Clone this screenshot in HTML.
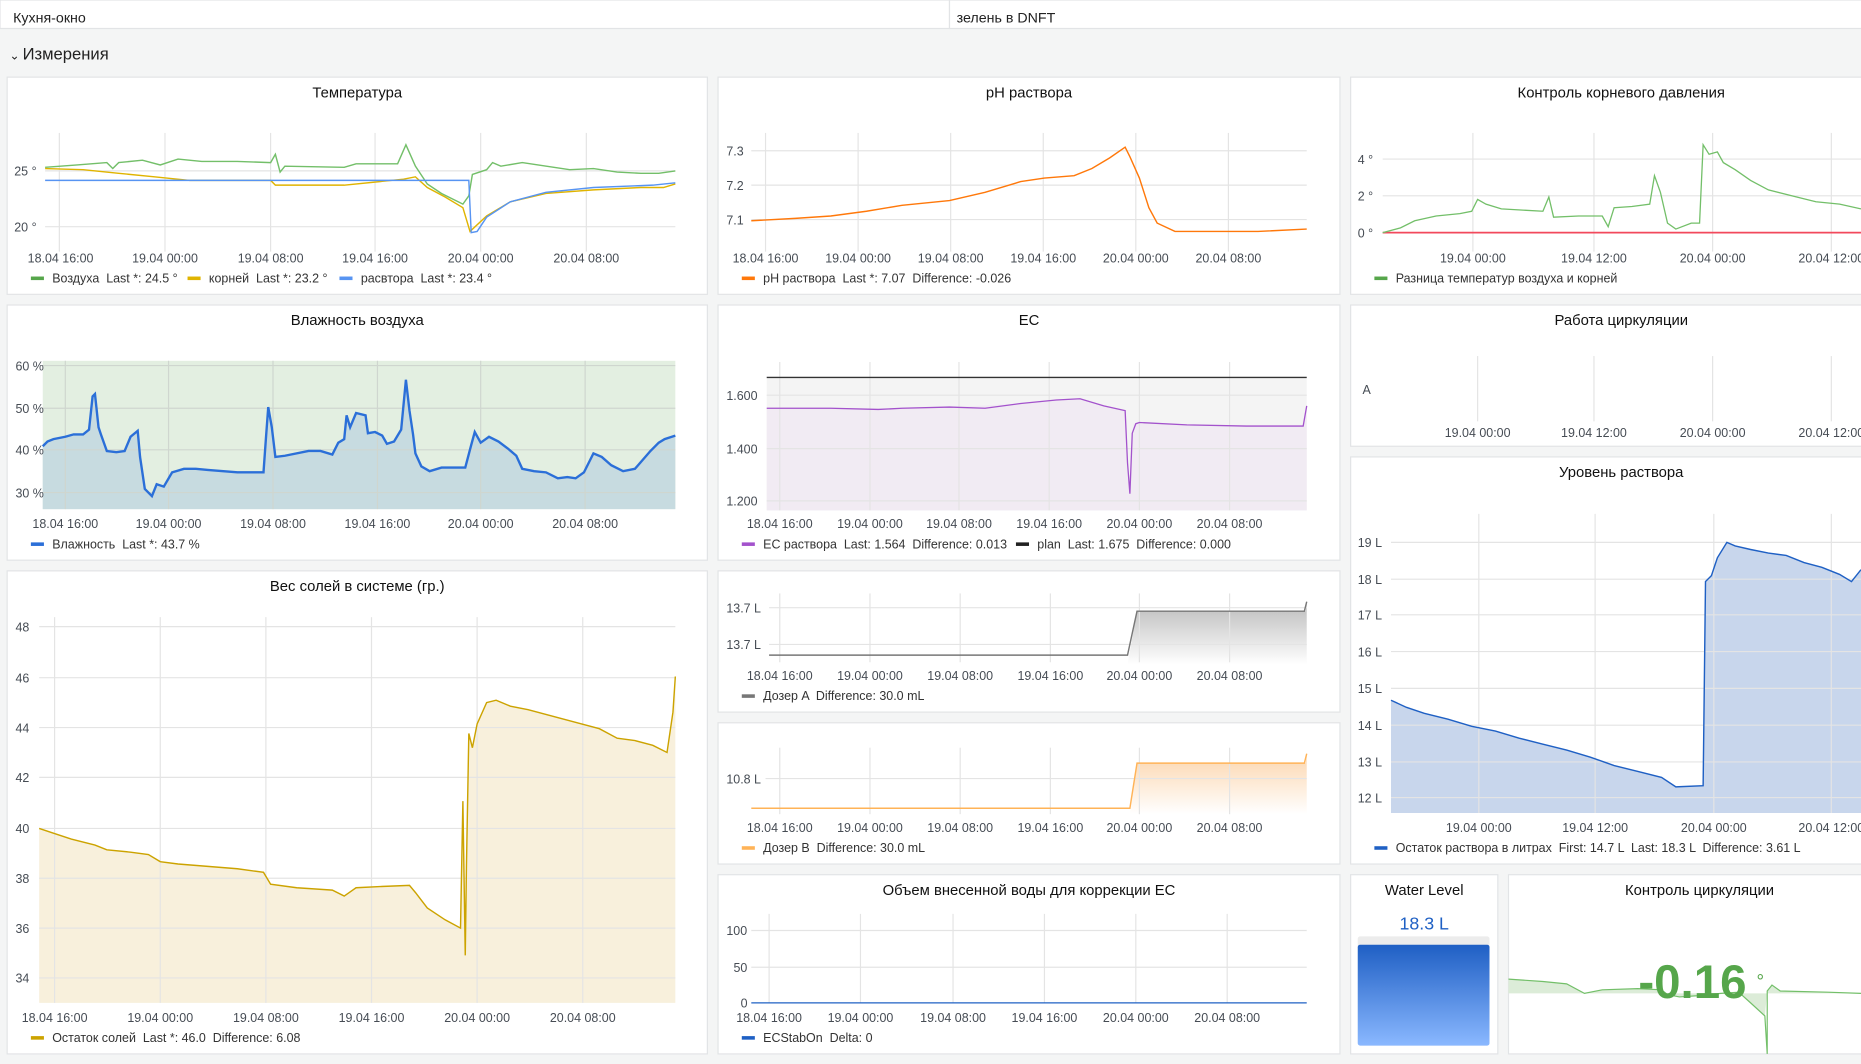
<!DOCTYPE html>
<html><head><meta charset="utf-8"><style>
html,body{margin:0;padding:0;background:#f4f5f5;width:1861px;height:1064px;overflow:hidden}
svg{display:block}
text{font-family:"Liberation Sans",sans-serif;fill:#464c54;font-size:10.5px;white-space:pre}
.t{font-size:12.5px;fill:#111;font-weight:normal;text-anchor:middle}
.lg{font-size:10.5px;fill:#333}
.g{stroke:#e4e4e4;stroke-width:1}
.p{fill:#fff;stroke:#e2e4e6}
</style></head><body>
<svg width="1861" height="1064" viewBox="0 0 1568 896.5">
<defs>
<linearGradient id="ga" x1="0" y1="0" x2="0" y2="1"><stop offset="0" stop-color="#bdbdbd"/><stop offset="1" stop-color="#fff"/></linearGradient>
<linearGradient id="gb" x1="0" y1="0" x2="0" y2="1"><stop offset="0" stop-color="#fcd7b0"/><stop offset="1" stop-color="#fff"/></linearGradient>
<linearGradient id="wl" x1="0" y1="0" x2="0" y2="1"><stop offset="0" stop-color="#1f5fc4"/><stop offset="1" stop-color="#8ab8ff"/></linearGradient>
</defs>
<rect x="0" y="0" width="800" height="24" class="p"/><rect x="800" y="0" width="770" height="24" class="p"/>
<text x="11" y="19" style="font-size:12px;fill:#222">Кухня-окно</text>
<text x="806" y="19" style="font-size:12px;fill:#222">зелень в DNFT</text>
<text x="8" y="50" style="font-size:10px;fill:#222">⌄</text>
<text x="19" y="50" style="font-size:14px;fill:#222">Измерения</text>

<!-- Temperature -->
<rect x="6" y="65" width="590" height="183" class="p"/>
<text x="301" y="82" class="t">Температура</text>
<g class="g"><line x1="50" y1="112" x2="50" y2="212"/><line x1="139" y1="112" x2="139" y2="212"/><line x1="228" y1="112" x2="228" y2="212"/><line x1="316" y1="112" x2="316" y2="212"/><line x1="405" y1="112" x2="405" y2="212"/><line x1="494" y1="112" x2="494" y2="212"/><line x1="38" y1="144" x2="569" y2="144"/><line x1="38" y1="191" x2="569" y2="191"/></g>
<text x="12" y="148">25 °</text><text x="12" y="195">20 °</text>
<polyline fill="none" stroke="#73bf69" stroke-width="1.2" points="38,141 65,139 90,137 95,142 100,137 120,135 135,139 150,134 170,136 200,136 228,137 232,130 236,145 240,140 290,141 300,138 335,138 342,122 350,140 360,155 372,163 390,172 395,165 398,147 410,143 415,137 422,140 440,137 480,143 500,142 520,145 540,146 555,146 569,144"/>
<polyline fill="none" stroke="#e0b400" stroke-width="1.2" points="38,142 70,143 100,146 130,149 160,152 228,152 232,156 290,156 340,151 350,149 360,158 375,166 390,175 396,195 410,182 430,170 460,163 500,160 540,158 559,158 569,155"/>
<polyline fill="none" stroke="#5794f2" stroke-width="1.2" points="38,152 395,152 397,196 402,195 410,183 430,170 460,162 500,158 550,156 569,154"/>
<text x="51" y="221" text-anchor="middle">18.04 16:00</text><text x="139" y="221" text-anchor="middle">19.04 00:00</text><text x="228" y="221" text-anchor="middle">19.04 08:00</text><text x="316" y="221" text-anchor="middle">19.04 16:00</text><text x="405" y="221" text-anchor="middle">20.04 00:00</text><text x="494" y="221" text-anchor="middle">20.04 08:00</text>
<rect x="26" y="233" width="11" height="3" fill="#56a64b"/><text x="44" y="238" class="lg">Воздуха  Last *: 24.5 °</text>
<rect x="158" y="233" width="11" height="3" fill="#e0b400"/><text x="176" y="238" class="lg">корней  Last *: 23.2 °</text>
<rect x="286" y="233" width="11" height="3" fill="#5794f2"/><text x="304" y="238" class="lg">расвтора  Last *: 23.4 °</text>

<!-- pH -->
<rect x="605" y="65" width="524" height="183" class="p"/>
<text x="867" y="82" class="t">pH раствора</text>
<g class="g"><line x1="645" y1="112" x2="645" y2="212"/><line x1="723" y1="112" x2="723" y2="212"/><line x1="801" y1="112" x2="801" y2="212"/><line x1="879" y1="112" x2="879" y2="212"/><line x1="957" y1="112" x2="957" y2="212"/><line x1="1035" y1="112" x2="1035" y2="212"/><line x1="633" y1="127" x2="1101" y2="127"/><line x1="633" y1="156" x2="1101" y2="156"/><line x1="633" y1="185" x2="1101" y2="185"/></g>
<text x="612" y="131">7.3</text><text x="612" y="160">7.2</text><text x="612" y="189">7.1</text>
<polyline fill="none" stroke="#ff780a" stroke-width="1.2" points="633,186 670,184 700,182 730,178 760,173 800,169 830,162 860,153 880,150 905,148 920,142 935,133 948,124 952,132 960,150 968,175 975,188 990,195 1030,195 1060,195 1101,193"/>
<text x="645" y="221" text-anchor="middle">18.04 16:00</text><text x="723" y="221" text-anchor="middle">19.04 00:00</text><text x="801" y="221" text-anchor="middle">19.04 08:00</text><text x="879" y="221" text-anchor="middle">19.04 16:00</text><text x="957" y="221" text-anchor="middle">20.04 00:00</text><text x="1035" y="221" text-anchor="middle">20.04 08:00</text>
<rect x="625" y="233" width="11" height="3" fill="#ff780a"/><text x="643" y="238" class="lg">pH раствора  Last *: 7.07  Difference: -0.026</text>

<!-- Root pressure -->
<rect x="1138" y="65" width="440" height="183" class="p"/>
<text x="1366" y="82" class="t">Контроль корневого давления</text>
<g class="g"><line x1="1241" y1="112" x2="1241" y2="212"/><line x1="1343" y1="112" x2="1343" y2="212"/><line x1="1443" y1="112" x2="1443" y2="212"/><line x1="1543" y1="112" x2="1543" y2="212"/><line x1="1165" y1="134" x2="1568" y2="134"/><line x1="1165" y1="165" x2="1568" y2="165"/></g>
<text x="1144" y="138">4 °</text><text x="1144" y="169">2 °</text><text x="1144" y="200">0 °</text>
<polyline fill="none" stroke="#f2495c" stroke-width="1.5" points="1165,196 1568,196"/>
<polyline fill="none" stroke="#73bf69" stroke-width="1.1" points="1165,196 1180,192 1192,186 1210,182 1230,180 1240,178 1245,168 1252,172 1265,176 1300,178 1305,166 1309,183 1330,182 1350,182 1355,191 1360,175 1375,174 1390,172 1394,148 1399,162 1405,188 1412,193 1425,188 1432,188 1435,122 1440,130 1447,128 1452,137 1462,143 1475,152 1490,160 1510,165 1530,170 1550,172 1568,176"/>
<text x="1241" y="221" text-anchor="middle">19.04 00:00</text><text x="1343" y="221" text-anchor="middle">19.04 12:00</text><text x="1443" y="221" text-anchor="middle">20.04 00:00</text><text x="1543" y="221" text-anchor="middle">20.04 12:00</text>
<rect x="1158" y="233" width="11" height="3" fill="#56a64b"/><text x="1176" y="238" class="lg">Разница температур воздуха и корней</text>

<!-- Humidity -->
<rect x="6" y="257" width="590" height="215" class="p"/>
<text x="301" y="274" class="t">Влажность воздуха</text>
<rect x="36" y="304" width="533" height="125" fill="#e3efe1"/>
<polygon fill="#c7dbe0" points="36,429 36,376 40,372 45,370 55,368 62,366 70,366 75,362 78,334 80,332 83,360 85,366 90,380 98,381 105,380 110,368 116,363 118,385 122,412 128,418 132,408 138,410 145,398 155,395 165,395 175,396 200,398 222,398 224,370 226,343 229,360 232,385 240,384 260,380 270,380 280,383 285,373 290,370 292,350 295,360 300,348 308,350 310,365 316,364 322,367 326,374 332,372 338,362 342,320 345,346 348,366 350,382 355,393 362,397 372,394 385,394 392,394 397,375 400,364 405,373 412,368 420,372 428,378 435,384 440,395 450,397 460,398 470,403 478,402 485,403 492,398 500,382 507,385 515,392 525,397 535,395 548,380 555,373 560,370 569,367 569,429"/>
<g class="g" style="stroke:#cfd6cf"><line x1="55" y1="304" x2="55" y2="429"/><line x1="142" y1="304" x2="142" y2="429"/><line x1="230" y1="304" x2="230" y2="429"/><line x1="318" y1="304" x2="318" y2="429"/><line x1="405" y1="304" x2="405" y2="429"/><line x1="493" y1="304" x2="493" y2="429"/><line x1="36" y1="308" x2="569" y2="308"/><line x1="36" y1="344" x2="569" y2="344"/><line x1="36" y1="379" x2="569" y2="379"/><line x1="36" y1="415" x2="569" y2="415"/></g>
<polyline fill="none" stroke="#2b6fd8" stroke-width="2" points="36,376 40,372 45,370 55,368 62,366 70,366 75,362 78,334 80,332 83,360 85,366 90,380 98,381 105,380 110,368 116,363 118,385 122,412 128,418 132,408 138,410 145,398 155,395 165,395 175,396 200,398 222,398 224,370 226,343 229,360 232,385 240,384 260,380 270,380 280,383 285,373 290,370 292,350 295,360 300,348 308,350 310,365 316,364 322,367 326,374 332,372 338,362 342,320 345,346 348,366 350,382 355,393 362,397 372,394 385,394 392,394 397,375 400,364 405,373 412,368 420,372 428,378 435,384 440,395 450,397 460,398 470,403 478,402 485,403 492,398 500,382 507,385 515,392 525,397 535,395 548,380 555,373 560,370 569,367"/>
<text x="13" y="312">60 %</text><text x="13" y="348">50 %</text><text x="13" y="383">40 %</text><text x="13" y="419">30 %</text>
<text x="55" y="445" text-anchor="middle">18.04 16:00</text><text x="142" y="445" text-anchor="middle">19.04 00:00</text><text x="230" y="445" text-anchor="middle">19.04 08:00</text><text x="318" y="445" text-anchor="middle">19.04 16:00</text><text x="405" y="445" text-anchor="middle">20.04 00:00</text><text x="493" y="445" text-anchor="middle">20.04 08:00</text>
<rect x="26" y="457" width="11" height="3" fill="#2b6fd8"/><text x="44" y="462" class="lg">Влажность  Last *: 43.7 %</text>

<!-- EC -->
<rect x="605" y="257" width="524" height="215" class="p"/>
<text x="867" y="274" class="t">EC</text>
<rect x="646" y="318" width="455" height="112" fill="#f4f4f4"/>
<polygon fill="#f1ebf3" points="646,430 646,344 700,344 740,345 800,343 860,340 910,336 930,342 948,346 950,400 952,416 955,357 960,357 1000,358 1050,359 1098,359 1101,342 1101,430"/>
<g class="g"><line x1="657" y1="305" x2="657" y2="430"/><line x1="733" y1="305" x2="733" y2="430"/><line x1="808" y1="305" x2="808" y2="430"/><line x1="884" y1="305" x2="884" y2="430"/><line x1="960" y1="305" x2="960" y2="430"/><line x1="1036" y1="305" x2="1036" y2="430"/><line x1="646" y1="333" x2="1101" y2="333"/><line x1="646" y1="378" x2="1101" y2="378"/><line x1="646" y1="422" x2="1101" y2="422"/></g>
<line x1="646" y1="318" x2="1101" y2="318" stroke="#333" stroke-width="1.2"/>
<polyline fill="none" stroke="#a352cc" stroke-width="1.1" points="646,344 700,344 740,345 760,344 800,343 830,344 860,340 890,337 910,336 930,342 948,346 950,390 952,416 954,365 957,357 960,356 1000,358 1050,359 1098,359 1101,342"/>
<text x="612" y="337">1.600</text><text x="612" y="382">1.400</text><text x="612" y="426">1.200</text>
<text x="657" y="445" text-anchor="middle">18.04 16:00</text><text x="733" y="445" text-anchor="middle">19.04 00:00</text><text x="808" y="445" text-anchor="middle">19.04 08:00</text><text x="884" y="445" text-anchor="middle">19.04 16:00</text><text x="960" y="445" text-anchor="middle">20.04 00:00</text><text x="1036" y="445" text-anchor="middle">20.04 08:00</text>
<rect x="625" y="457" width="11" height="3" fill="#a352cc"/><text x="643" y="462" class="lg">EC раствора  Last: 1.564  Difference: 0.013</text>
<rect x="856" y="457" width="11" height="3" fill="#222"/><text x="874" y="462" class="lg">plan  Last: 1.675  Difference: 0.000</text>

<!-- Circulation work -->
<rect x="1138" y="257" width="440" height="119" class="p"/>
<text x="1366" y="274" class="t">Работа циркуляции</text>
<text x="1148" y="332">A</text>
<g class="g"><line x1="1245" y1="300" x2="1245" y2="355"/><line x1="1343" y1="300" x2="1343" y2="355"/><line x1="1443" y1="300" x2="1443" y2="355"/><line x1="1543" y1="300" x2="1543" y2="355"/></g>
<text x="1245" y="368" text-anchor="middle">19.04 00:00</text><text x="1343" y="368" text-anchor="middle">19.04 12:00</text><text x="1443" y="368" text-anchor="middle">20.04 00:00</text><text x="1543" y="368" text-anchor="middle">20.04 12:00</text>

<!-- Level -->
<rect x="1138" y="385" width="440" height="343" class="p"/>
<text x="1366" y="402" class="t">Уровень раствора</text>
<polygon fill="#c8d6ec" points="1172,685 1172,590 1185,596 1200,601 1220,606 1240,612 1260,616 1280,622 1300,627 1320,632 1340,638 1360,645 1380,650 1400,655 1412,663 1435,662 1437,490 1442,485 1447,470 1455,457 1462,460 1475,463 1490,466 1505,468 1520,474 1535,478 1550,484 1560,490 1568,480 1568,685"/>
<g class="g"><line x1="1246" y1="433" x2="1246" y2="685"/><line x1="1344" y1="433" x2="1344" y2="685"/><line x1="1444" y1="433" x2="1444" y2="685"/><line x1="1543" y1="433" x2="1543" y2="685"/><line x1="1172" y1="457" x2="1568" y2="457"/><line x1="1172" y1="488" x2="1568" y2="488"/><line x1="1172" y1="518" x2="1568" y2="518"/><line x1="1172" y1="549" x2="1568" y2="549"/><line x1="1172" y1="580" x2="1568" y2="580"/><line x1="1172" y1="611" x2="1568" y2="611"/><line x1="1172" y1="642" x2="1568" y2="642"/><line x1="1172" y1="672" x2="1568" y2="672"/></g>
<polyline fill="none" stroke="#1f60c4" stroke-width="1.2" points="1172,590 1185,596 1200,601 1220,606 1240,612 1260,616 1280,622 1300,627 1320,632 1340,638 1360,645 1380,650 1400,655 1412,663 1435,662 1437,490 1442,485 1447,470 1455,457 1462,460 1475,463 1490,466 1505,468 1520,474 1535,478 1550,484 1560,490 1568,480"/>
<text x="1144" y="461">19 L</text><text x="1144" y="492">18 L</text><text x="1144" y="522">17 L</text><text x="1144" y="553">16 L</text><text x="1144" y="584">15 L</text><text x="1144" y="615">14 L</text><text x="1144" y="646">13 L</text><text x="1144" y="676">12 L</text>
<text x="1246" y="701" text-anchor="middle">19.04 00:00</text><text x="1344" y="701" text-anchor="middle">19.04 12:00</text><text x="1444" y="701" text-anchor="middle">20.04 00:00</text><text x="1543" y="701" text-anchor="middle">20.04 12:00</text>
<rect x="1158" y="713" width="11" height="3" fill="#1f60c4"/><text x="1176" y="718" class="lg">Остаток раствора в литрах  First: 14.7 L  Last: 18.3 L  Difference: 3.61 L</text>

<!-- Salt -->
<rect x="6" y="481" width="590" height="407" class="p"/>
<text x="301" y="498" class="t">Вес солей в системе (гр.)</text>
<polygon fill="#f8f0dc" points="33,845 33,698 45,702 60,707 80,712 90,716 110,718 125,720 135,726 150,728 175,730 200,732 222,735 228,745 250,748 280,750 290,755 300,748 320,747 345,746 350,752 360,765 375,775 388,782 390,675 392,805 393,730 395,618 398,630 402,610 410,592 418,590 430,595 445,598 460,602 475,606 490,610 505,614 520,622 535,624 550,628 562,634 567,600 569,570 569,845"/>
<g class="g"><line x1="46" y1="520" x2="46" y2="845"/><line x1="135" y1="520" x2="135" y2="845"/><line x1="224" y1="520" x2="224" y2="845"/><line x1="313" y1="520" x2="313" y2="845"/><line x1="402" y1="520" x2="402" y2="845"/><line x1="491" y1="520" x2="491" y2="845"/><line x1="33" y1="528" x2="569" y2="528"/><line x1="33" y1="571" x2="569" y2="571"/><line x1="33" y1="613" x2="569" y2="613"/><line x1="33" y1="655" x2="569" y2="655"/><line x1="33" y1="698" x2="569" y2="698"/><line x1="33" y1="740" x2="569" y2="740"/><line x1="33" y1="782" x2="569" y2="782"/><line x1="33" y1="824" x2="569" y2="824"/></g>
<polyline fill="none" stroke="#cca300" stroke-width="1.2" points="33,698 45,702 60,707 80,712 90,716 110,718 125,720 135,726 150,728 175,730 200,732 222,735 228,745 250,748 280,750 290,755 300,748 320,747 345,746 350,752 360,765 375,775 388,782 390,675 392,805 393,730 395,618 398,630 402,610 410,592 418,590 430,595 445,598 460,602 475,606 490,610 505,614 520,622 535,624 550,628 562,634 567,600 569,570"/>
<text x="13" y="532">48</text><text x="13" y="575">46</text><text x="13" y="617">44</text><text x="13" y="659">42</text><text x="13" y="702">40</text><text x="13" y="744">38</text><text x="13" y="786">36</text><text x="13" y="828">34</text>
<text x="46" y="861" text-anchor="middle">18.04 16:00</text><text x="135" y="861" text-anchor="middle">19.04 00:00</text><text x="224" y="861" text-anchor="middle">19.04 08:00</text><text x="313" y="861" text-anchor="middle">19.04 16:00</text><text x="402" y="861" text-anchor="middle">20.04 00:00</text><text x="491" y="861" text-anchor="middle">20.04 08:00</text>
<rect x="26" y="873" width="11" height="3" fill="#cca300"/><text x="44" y="878" class="lg">Остаток солей  Last *: 46.0  Difference: 6.08</text>

<!-- Doser A -->
<rect x="605" y="481" width="524" height="119" class="p"/>
<polygon fill="url(#ga)" points="950,560 958,515 1100,515 1101,508 1101,560"/>
<g class="g"><line x1="657" y1="500" x2="657" y2="558"/><line x1="733" y1="500" x2="733" y2="558"/><line x1="809" y1="500" x2="809" y2="558"/><line x1="885" y1="500" x2="885" y2="558"/><line x1="960" y1="500" x2="960" y2="558"/><line x1="1036" y1="500" x2="1036" y2="558"/><line x1="648" y1="512" x2="1101" y2="512"/><line x1="648" y1="543" x2="1101" y2="543"/></g>
<polyline fill="none" stroke="#777" stroke-width="1.2" points="648,552 950,552 958,515 1099,515 1101,507"/>
<text x="612" y="516">13.7 L</text><text x="612" y="547">13.7 L</text>
<text x="657" y="573" text-anchor="middle">18.04 16:00</text><text x="733" y="573" text-anchor="middle">19.04 00:00</text><text x="809" y="573" text-anchor="middle">19.04 08:00</text><text x="885" y="573" text-anchor="middle">19.04 16:00</text><text x="960" y="573" text-anchor="middle">20.04 00:00</text><text x="1036" y="573" text-anchor="middle">20.04 08:00</text>
<rect x="625" y="585" width="11" height="3" fill="#777"/><text x="643" y="590" class="lg">Дозер A  Difference: 30.0 mL</text>

<!-- Doser B -->
<rect x="605" y="609" width="524" height="119" class="p"/>
<polygon fill="url(#gb)" points="952,686 958,643 1100,643 1101,636 1101,686"/>
<g class="g"><line x1="657" y1="630" x2="657" y2="686"/><line x1="733" y1="630" x2="733" y2="686"/><line x1="809" y1="630" x2="809" y2="686"/><line x1="885" y1="630" x2="885" y2="686"/><line x1="960" y1="630" x2="960" y2="686"/><line x1="1036" y1="630" x2="1036" y2="686"/><line x1="645" y1="656" x2="1101" y2="656"/></g>
<polyline fill="none" stroke="#ffb357" stroke-width="1.2" points="633,681 952,681 958,643 1099,643 1101,635"/>
<text x="612" y="660">10.8 L</text>
<text x="657" y="701" text-anchor="middle">18.04 16:00</text><text x="733" y="701" text-anchor="middle">19.04 00:00</text><text x="809" y="701" text-anchor="middle">19.04 08:00</text><text x="885" y="701" text-anchor="middle">19.04 16:00</text><text x="960" y="701" text-anchor="middle">20.04 00:00</text><text x="1036" y="701" text-anchor="middle">20.04 08:00</text>
<rect x="625" y="713" width="11" height="3" fill="#ffb357"/><text x="643" y="718" class="lg">Дозер B  Difference: 30.0 mL</text>

<!-- Water volume -->
<rect x="605" y="737" width="524" height="151" class="p"/>
<text x="867" y="754" class="t">Объем внесенной воды для коррекции EC</text>
<g class="g"><line x1="648" y1="770" x2="648" y2="845"/><line x1="725" y1="770" x2="725" y2="845"/><line x1="803" y1="770" x2="803" y2="845"/><line x1="880" y1="770" x2="880" y2="845"/><line x1="957" y1="770" x2="957" y2="845"/><line x1="1034" y1="770" x2="1034" y2="845"/><line x1="633" y1="784" x2="1101" y2="784"/><line x1="633" y1="815" x2="1101" y2="815"/></g>
<line x1="633" y1="845" x2="1101" y2="845" stroke="#1f60c4" stroke-width="1"/>
<text x="612" y="788">100</text><text x="618" y="819">50</text><text x="624" y="849">0</text>
<text x="648" y="861" text-anchor="middle">18.04 16:00</text><text x="725" y="861" text-anchor="middle">19.04 00:00</text><text x="803" y="861" text-anchor="middle">19.04 08:00</text><text x="880" y="861" text-anchor="middle">19.04 16:00</text><text x="957" y="861" text-anchor="middle">20.04 00:00</text><text x="1034" y="861" text-anchor="middle">20.04 08:00</text>
<rect x="625" y="873" width="11" height="3" fill="#1f60c4"/><text x="643" y="878" class="lg">ECStabOn  Delta: 0</text>

<!-- Water Level gauge -->
<rect x="1138" y="737" width="124" height="151" class="p"/>
<text x="1200" y="754" class="t">Water Level</text>
<text x="1200" y="783" text-anchor="middle" style="font-size:15px;fill:#1f60c4">18.3 L</text>
<rect x="1144" y="789" width="111" height="92" rx="2" fill="#ececec"/>
<rect x="1144" y="796" width="111" height="85" rx="2" fill="url(#wl)"/>

<!-- Circulation control -->
<rect x="1271" y="737" width="300" height="151" class="p"/>
<text x="1432" y="754" class="t">Контроль циркуляции</text>
<polygon fill="#dcecd8" points="1271,825 1300,827 1320,829 1335,837 1350,834 1380,833 1400,834 1405,838 1415,840 1450,837 1465,836 1475,845 1487,856 1489,835 1493,830 1500,835 1540,836 1568,837 1568,837 1271,837"/>
<polyline fill="none" stroke="#73bf69" stroke-width="1" points="1271,825 1300,827 1320,829 1335,837 1350,834 1380,833 1400,834 1405,838 1415,840 1430,839 1440,838 1450,837 1465,836 1475,845 1487,856 1489,888 1489,835 1493,830 1500,835 1540,836 1568,837"/>
<text x="1426" y="841" text-anchor="middle" style="font-size:40px;font-weight:bold;fill:#56a64b">-0.16</text>
<text x="1480" y="832" style="font-size:16px;fill:#56a64b">°</text>
</svg>
</body></html>
